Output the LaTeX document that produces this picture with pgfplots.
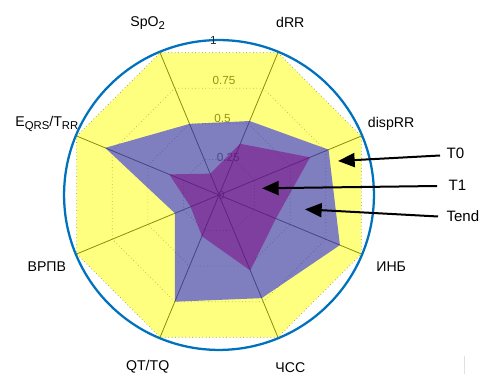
\documentclass[border=0pt]{standalone}
\usepackage{pgfplots}
\pgfplotsset{compat=1.18}
\usepackage{fontspec}
\setmainfont{Liberation Sans}
\usetikzlibrary{arrows.meta}
\definecolor{mblue}{rgb}{0,0.447,0.741}
\definecolor{tzero}{rgb}{1,1,0}
\definecolor{tend}{rgb}{0,0,1}
\definecolor{tone}{rgb}{0.5,0,0.5}
\newcommand\sub[1]{\raisebox{-0.45ex}{\fontsize{8.5}{9}\selectfont #1}}
\begin{document}
\begin{tikzpicture}
\begin{axis}[
  x=115.5pt, y=115.5pt,
  xmin=-1.4221, xmax=1.7078, ymin=-1.1623, ymax=1.2662,
  hide axis, clip=false, no markers,
]
\path (rel axis cs:0,0) rectangle (rel axis cs:1,1);
% radial grid (dotted octagons)
\addplot[black!55, dotted, line width=0.55pt, data cs=polar] coordinates {(67.5,0.25) (22.5,0.25) (-22.5,0.25) (-67.5,0.25) (-112.5,0.25) (-157.5,0.25) (157.5,0.25) (112.5,0.25) (67.5,0.25)};
\addplot[black!55, dotted, line width=0.55pt, data cs=polar] coordinates {(67.5,0.5) (22.5,0.5) (-22.5,0.5) (-67.5,0.5) (-112.5,0.5) (-157.5,0.5) (157.5,0.5) (112.5,0.5) (67.5,0.5)};
\addplot[black!55, dotted, line width=0.55pt, data cs=polar] coordinates {(67.5,0.75) (22.5,0.75) (-22.5,0.75) (-67.5,0.75) (-112.5,0.75) (-157.5,0.75) (157.5,0.75) (112.5,0.75) (67.5,0.75)};
\addplot[black!55, dotted, line width=0.55pt, data cs=polar] coordinates {(67.5,1) (22.5,1) (-22.5,1) (-67.5,1) (-112.5,1) (-157.5,1) (157.5,1) (112.5,1) (67.5,1)};
% spokes
\addplot[black!90, line width=0.6pt, data cs=polar] coordinates {(67.5,1) (-112.5,1)};
\addplot[black!90, line width=0.6pt, data cs=polar] coordinates {(22.5,1) (-157.5,1)};
\addplot[black!90, line width=0.6pt, data cs=polar] coordinates {(-22.5,1) (157.5,1)};
\addplot[black!90, line width=0.6pt, data cs=polar] coordinates {(-67.5,1) (112.5,1)};
% r tick labels (under the fills)
\begin{scope}[every node/.style={font=\fontsize{8.8}{10}\selectfont, text=black!85, inner sep=0pt}]
\node at (axis cs:0.0325,0.7435) {0.75};
\node at (axis cs:0.0227,0.4968) {0.5};
\node at (axis cs:0.0604,0.2435) {0.25};
\node at (axis cs:0.0162,0.0) {0};
\end{scope}
% T0
\addplot[draw=none, fill=tzero, fill opacity=0.5, data cs=polar] coordinates {(67.5,1) (22.5,1) (-22.5,1) (-67.5,1) (-112.5,1) (-157.5,1) (157.5,1) (112.5,1) (67.5,1)};
% Tend
\addplot[draw=none, fill=tend, fill opacity=0.5, data cs=polar] coordinates {(67.5,0.52) (22.5,0.77) (-22.5,0.85) (-67.5,0.725) (-112.5,0.75) (-157.5,0.31) (157.5,0.80) (112.5,0.50) (67.5,0.52)};
% T1
\addplot[draw=none, fill=tone, fill opacity=0.5, data cs=polar] coordinates {(67.5,0.36) (22.5,0.64) (-22.5,0.40) (-67.5,0.53) (-112.5,0.29) (-157.5,0.20) (157.5,0.35) (112.5,0.15) (67.5,0.36)};
% outer circle
\draw[mblue, line width=1.7pt] (axis cs:0,0) circle[radius=116.2pt];
\node[font=\fontsize{8.8}{10}\selectfont, text=black!85, inner sep=0pt] at (axis cs:-0.037,1.0065) {1};
% category labels
\begin{scope}[every node/.style={font=\fontsize{10.6}{12}\selectfont, inner sep=0pt}]
\node at (axis cs:0.4630,1.1179) {dRR};
\node at (axis cs:1.1179,0.4630) {dispRR};
\node at (axis cs:1.1179,-0.4630) {ИНБ};
\node at (axis cs:0.4630,-1.1179) {ЧСС};
\node at (axis cs:-0.4630,-1.1179) {QT/TQ};
\node at (axis cs:-1.1179,-0.4630) {ВРПВ};
\node at (axis cs:-1.1179,0.4630) {E\sub{QRS}/T\sub{RR}};
\node at (axis cs:-0.4630,1.1179) {SpO\sub{2}};
\end{scope}
% arrows
\begin{scope}[line width=1.5pt, -{Triangle[length=12.5pt, width=10.5pt]}]
\draw (axis cs:1.4351,0.2565) -- (axis cs:0.7727,0.2208);
\draw (axis cs:1.4156,0.0584) -- (axis cs:0.2792,0.0435);
\draw (axis cs:1.4221,-0.1396) -- (axis cs:0.5584,-0.0929);
\end{scope}
\begin{scope}[every node/.style={font=\fontsize{11.3}{13}\selectfont, inner sep=0pt}]
\node at (axis cs:1.5357,0.2708) {T0};
\node at (axis cs:1.5487,0.0649) {T1};
\node at (axis cs:1.5833,-0.1364) {Tend};
\end{scope}
\draw[black!12, line width=0.75pt] (axis cs:1.597,-1.0455) -- (axis cs:1.597,-1.1623);
\end{axis}
\end{tikzpicture}
\end{document}
